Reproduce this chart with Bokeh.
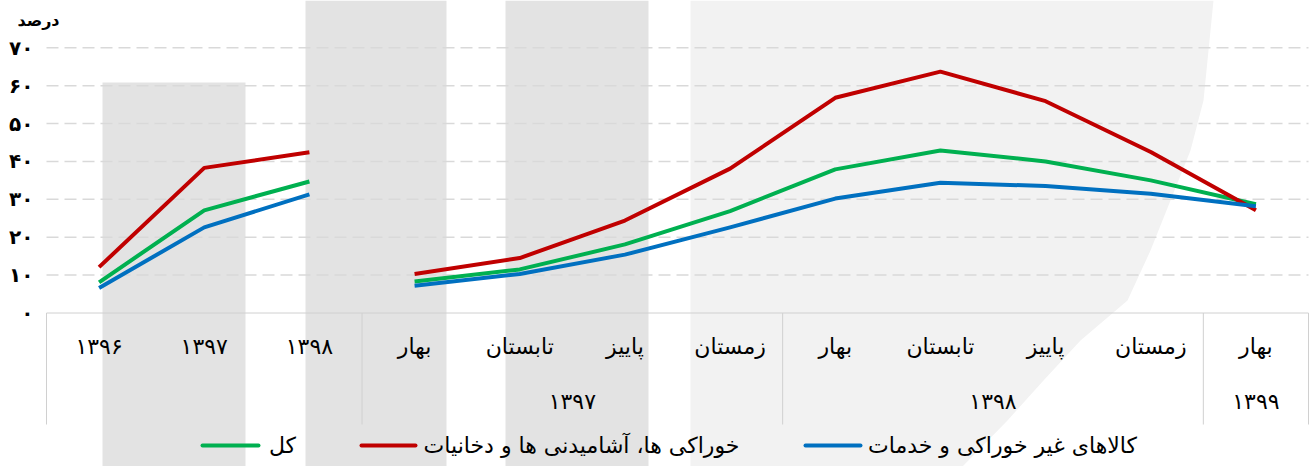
from bokeh.plotting import figure
from bokeh.models import Range1d
from bokeh.core.properties import value
from bokeh.embed import file_html
from bokeh.resources import INLINE

# ---------------- data ----------------
annual_labels = ["۱۳۹۶", "۱۳۹۷", "۱۳۹۸"]
season_labels = ["بهار", "تابستان", "پاییز", "زمستان",
                 "بهار", "تابستان", "پاییز", "زمستان", "بهار"]
season_years = ["۱۳۹۷", "۱۳۹۸", "۱۳۹۹"]
season_year_spans = [4, 4, 1]

series_names = ["کل", "خوراکی ها، آشامیدنی ها و دخانیات", "کالاهای غیر خوراکی و خدمات"]
series_colors = ["#00b050", "#c00000", "#0070c0"]

total_annual = [8.1, 27.1, 34.7]
food_annual = [12.1, 38.3, 42.4]
nonfood_annual = [6.6, 22.6, 31.3]

total_season = [8.3, 11.5, 18.1, 26.9, 37.9, 42.9, 40.0, 35.0, 28.7]
food_season = [10.3, 14.5, 24.4, 38.1, 56.8, 63.7, 55.9, 42.5, 27.1]
nonfood_season = [7.2, 10.3, 15.4, 22.6, 30.2, 34.4, 33.5, 31.5, 28.2]

y_ticks = [0, 10, 20, 30, 40, 50, 60, 70]
y_tick_labels = ["۰", "۱۰", "۲۰", "۳۰", "۴۰", "۵۰", "۶۰", "۷۰"]
y_unit = "درصد"

# ---------------- layout helpers (pixel -> data) ----------------
W, H = 1314, 466
PLOT_L, PLOT_R = 46, 1308
NA = len(annual_labels)
NCAT = NA + len(season_labels)
CAT_W = (PLOT_R - PLOT_L) / NCAT
Y0_PX, PXU = 312.5, 3.789   # pixel of value 0, pixels per unit


def dx(px):
    return (px - PLOT_L) / CAT_W


def dy(py):
    return (Y0_PX - py) / PXU


FONT = value("DejaVu Sans")

p = figure(width=W, height=H,
           x_range=Range1d(dx(0), dx(W)), y_range=Range1d(dy(H), dy(0)),
           output_backend="svg", toolbar_location=None,
           x_axis_location=None, y_axis_location=None,
           min_border=0, outline_line_color=None,
           background_fill_color="white", border_fill_color="white")
p.grid.visible = False

# background watermark approximation
p.quad(left=[dx(102), dx(305), dx(505)], right=[dx(245), dx(446), dx(648)],
       top=[dy(82), dy(0), dy(0)], bottom=[dy(H)] * 3,
       fill_color="#e3e3e3", line_color=None, level="image")
edge = [(1213, 0), (1203, 100), (1190, 150), (1170, 200), (1150, 250),
        (1127, 300), (1080, 340), (1043, 380), (1007, 420), (962, 466)]
px = [dx(690)] + [dx(a) for a, b in edge] + [dx(690)]
py = [dy(0)] + [dy(b) for a, b in edge] + [dy(H)]
p.patch(px, py, fill_color="#f2f2f2", line_color=None, level="image")

# dashed gridlines
gt = y_ticks[1:]
p.segment(x0=[0] * len(gt), y0=gt, x1=[NCAT] * len(gt), y1=gt,
          line_color="#d9d9d9", line_width=1.5, line_dash="12 6")

# y tick labels
p.text(x=[dx(33)] * len(y_ticks), y=y_ticks, text=y_tick_labels,
       text_align="right", text_baseline="middle", text_font=FONT,
       text_font_style="bold", text_font_size="20px", text_color="#000000")

# unit label
p.text(x=[dx(38)], y=[dy(20)], text=[y_unit], text_align="center",
       text_baseline="middle", text_font=FONT, text_font_style="bold",
       text_font_size="16px", text_color="#000000")

# table-like category axis
p.segment(x0=[0], y0=[0], x1=[NCAT], y1=[0], line_color="#d0d0d0", line_width=1)
bounds = [0, NA]
acc = NA
for s in season_year_spans:
    acc += s
    bounds.append(acc)
p.segment(x0=bounds, y0=[0] * len(bounds), x1=bounds, y1=[dy(424)] * len(bounds),
          line_color="#d0d0d0", line_width=1)

row1_labels = annual_labels + season_labels
p.text(x=[i + 0.5 for i in range(NCAT)], y=[dy(346)] * NCAT, text=row1_labels,
       text_align="center", text_baseline="middle",
       text_font=FONT, text_font_size="22px", text_color="#000000")

year_x = []
start = NA
for s in season_year_spans:
    year_x.append(start + s / 2)
    start += s
p.text(x=year_x, y=[dy(401)] * len(year_x), text=season_years,
       text_align="center", text_baseline="middle",
       text_font=FONT, text_font_size="22px", text_color="#000000")

# lines
annual_vals = [total_annual, food_annual, nonfood_annual]
season_vals = [total_season, food_season, nonfood_season]
ax = [i + 0.5 for i in range(NA)]
sx = [NA + i + 0.5 for i in range(len(season_labels))]
for av, sv, c in zip(annual_vals, season_vals, series_colors):
    p.line(ax, av, line_color=c, line_width=4, line_join="round")
    p.line(sx, sv, line_color=c, line_width=4, line_join="round")

# legend (custom)
leg_y = dy(445)
leg_lines = [(202, 258), (361, 415), (805, 860)]
leg_text_centers = [282, 581, 1002]
for (a, b), tc, name, c in zip(leg_lines, leg_text_centers, series_names, series_colors):
    p.segment(x0=[dx(a)], y0=[leg_y], x1=[dx(b)], y1=[leg_y],
              line_color=c, line_width=4, line_cap="round")
    p.text(x=[dx(tc)], y=[leg_y], text=[name], text_align="center",
           text_baseline="middle", text_font=FONT,
           text_font_size="22px", text_color="#000000")

open("out.html", "w").write(file_html(p, INLINE))
